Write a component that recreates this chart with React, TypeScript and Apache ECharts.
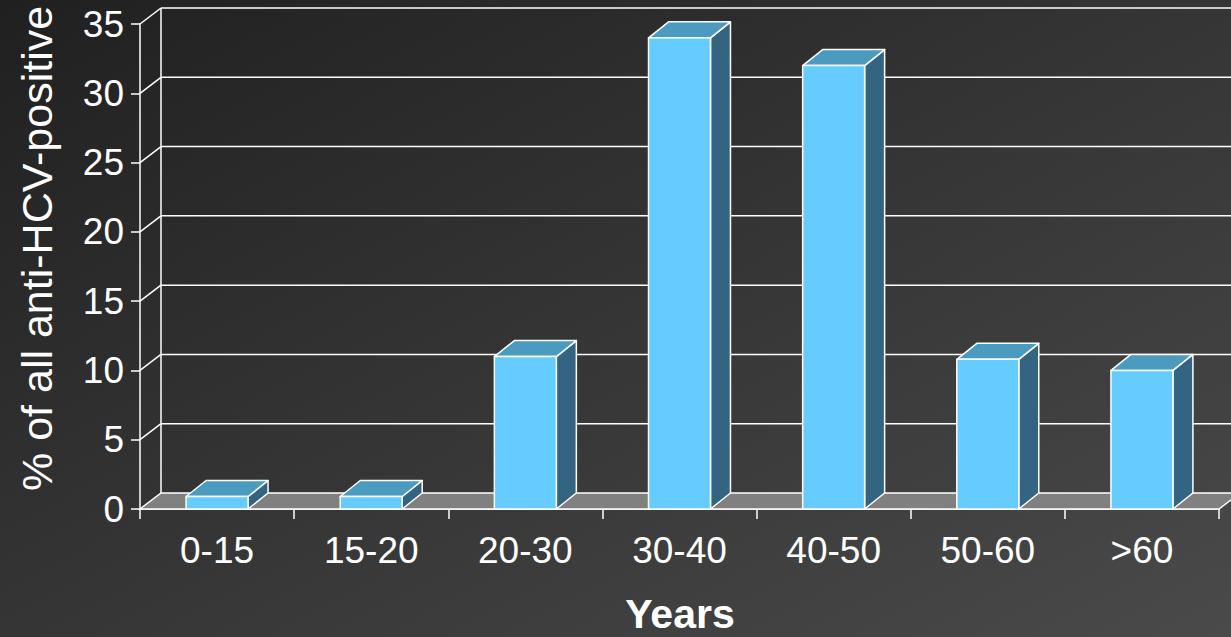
import React, { useEffect, useRef } from "react";
import * as echarts from "echarts";

const categories = ["0-15", "15-20", "20-30", "30-40", "40-50", "50-60", ">60"];
const values = [0.9, 0.9, 11, 34, 32, 10.8, 10];
const yTicks = [0, 5, 10, 15, 20, 25, 30, 35];
const yTitle = "% of all anti-HCV-positive";
const xTitle = "Years";

const FONT = "'Liberation Sans', Arial, Helvetica, sans-serif";
const WALL_DX = 21;
const WALL_DY = -16;
const BAR_DX = 20;
const BAR_DY = -16;
const BAR_RATIO = 0.402;

export default function App() {
  const ref = useRef<HTMLDivElement>(null);

  useEffect(() => {
    if (!ref.current) return;
    const chart = echarts.init(ref.current, undefined, { renderer: "svg" });
    const yMax = yTicks[yTicks.length - 1];

    const option: any = {
      animation: false,
      backgroundColor: {
        type: "linear",
        x: 0,
        y: 0,
        x2: 1,
        y2: 1,
        colorStops: [
          { offset: 0, color: "#202020" },
          { offset: 1, color: "#4a4a4a" },
        ],
      },
      grid: { left: 140, right: 12, top: 24, bottom: 128 },
      xAxis: {
        type: "category",
        data: categories,
        boundaryGap: true,
        axisLine: { show: true, lineStyle: { color: "#ffffff", width: 1.5 } },
        axisTick: { show: true, alignWithLabel: false, length: 10, lineStyle: { color: "#ffffff", width: 1.5 } },
        axisLabel: { color: "#ffffff", fontSize: 37, fontFamily: FONT, margin: 23 },
        splitLine: { show: false },
      },
      yAxis: {
        type: "value",
        min: 0,
        max: yMax,
        interval: 5,
        axisLine: { show: true, lineStyle: { color: "#ffffff", width: 1.5 } },
        axisTick: { show: true, length: 9, lineStyle: { color: "#ffffff", width: 1.5 } },
        axisLabel: { color: "#ffffff", fontSize: 37, fontFamily: FONT, margin: 16 },
        splitLine: { show: false },
      },
      graphic: [
        {
          type: "text",
          x: 37,
          y: 491,
          rotation: Math.PI / 2,
          style: {
            text: yTitle,
            fill: "#ffffff",
            font: `43px ${FONT}`,
            align: "left",
            verticalAlign: "middle",
          },
        },
        {
          type: "text",
          x: 680,
          y: 614,
          style: {
            text: xTitle,
            fill: "#ffffff",
            font: `bold 41px ${FONT}`,
            lineHeight: 41,
            align: "center",
            verticalAlign: "middle",
          },
        },
      ],
      series: [
        {
          type: "custom",
          name: "walls",
          silent: true,
          data: [[0, 0]],
          encode: { x: 0, y: 1 },
          z: 1,
          renderItem: (params: any, api: any) => {
            const bw = api.size([1, 0])[0];
            const x0 = api.coord([0, 0])[0] - bw / 2;
            const x1 = api.coord([categories.length - 1, 0])[0] + bw / 2;
            const y0 = api.coord([0, 0])[1];
            const yTop = api.coord([0, yMax])[1];
            const white = { stroke: "#ffffff", lineWidth: 1.5 };
            const children: any[] = [];
            children.push({
              type: "polygon",
              shape: {
                points: [
                  [x0, y0],
                  [x1, y0],
                  [x1 + WALL_DX, y0 + WALL_DY],
                  [x0 + WALL_DX, y0 + WALL_DY],
                ],
              },
              style: { fill: "#808080", stroke: "#ffffff", lineWidth: 1.5 },
            });
            children.push({
              type: "line",
              shape: { x1: x0 + WALL_DX, y1: y0 + WALL_DY, x2: x0 + WALL_DX, y2: yTop + WALL_DY },
              style: white,
            });
            yTicks.forEach((v) => {
              if (v === 0) return;
              const y = api.coord([0, v])[1];
              children.push({
                type: "line",
                shape: { x1: x0, y1: y, x2: x0 + WALL_DX, y2: y + WALL_DY },
                style: white,
              });
              children.push({
                type: "line",
                shape: { x1: x0 + WALL_DX, y1: y + WALL_DY, x2: x1 + WALL_DX, y2: y + WALL_DY },
                style: white,
              });
            });
            return { type: "group", children };
          },
        },
        {
          type: "custom",
          name: "bars",
          data: values.map((v, i) => [i, v]),
          encode: { x: 0, y: 1 },
          z: 2,
          renderItem: (params: any, api: any) => {
            const idx = api.value(0);
            const val = api.value(1);
            const [cx, yv] = api.coord([idx, val]);
            const y0 = api.coord([idx, 0])[1];
            const bw = api.size([1, 0])[0] * BAR_RATIO;
            const l = cx - bw / 2;
            const r = cx + bw / 2;
            const edge = { stroke: "#ffffff", lineWidth: 1.5, lineJoin: "round" };
            return {
              type: "group",
              children: [
                {
                  type: "polygon",
                  shape: {
                    points: [
                      [r, yv],
                      [r + BAR_DX, yv + BAR_DY],
                      [r + BAR_DX, y0 + BAR_DY],
                      [r, y0],
                    ],
                  },
                  style: { fill: "#336582", ...edge },
                },
                {
                  type: "polygon",
                  shape: {
                    points: [
                      [l, yv],
                      [r, yv],
                      [r + BAR_DX, yv + BAR_DY],
                      [l + BAR_DX, yv + BAR_DY],
                    ],
                  },
                  style: { fill: "#4b9bc1", ...edge },
                },
                {
                  type: "rect",
                  shape: { x: l, y: yv, width: bw, height: y0 - yv },
                  style: { fill: "#66ccff", ...edge },
                },
              ],
            };
          },
        },
      ],
    };

    chart.setOption(option);
    return () => chart.dispose();
  }, []);

  return (
    <div
      ref={ref}
      style={{ position: "fixed", left: 0, top: 0, width: 1231, height: 637 }}
    />
  );
}
